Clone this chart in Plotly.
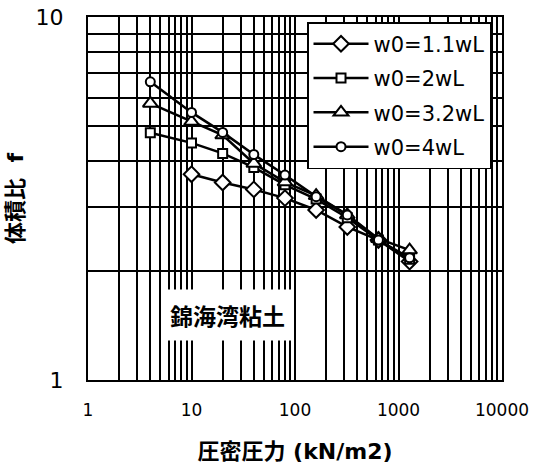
import plotly.graph_objects as go

pressure = [4, 10, 20, 40, 80, 160, 320, 640, 1280]
f_11 = [None, 3.69, 3.50, 3.35, 3.17, 2.94, 2.64, 2.43, 2.12]
f_2 = [4.80, 4.50, 4.21, 3.85, 3.45, 3.15, 2.80, 2.43, 2.15]
f_32 = [5.78, 5.15, 4.73, 3.95, 3.51, 3.22, 2.85, 2.45, 2.28]
f_4 = [6.63, 5.46, 4.81, 4.18, 3.67, 3.20, 2.85, 2.43, 2.17]

names = ["w0=1.1wL", "w0=2wL", "w0=3.2wL", "w0=4wL"]
series = [f_11, f_2, f_32, f_4]
symbols = ["diamond", "square", "triangle-up", "circle"]
sizes = [12, 9, 13, 9]

x_ticks = [1, 10, 100, 1000, 10000]
y_ticks = [1, 10]

fig = go.Figure()
for i, (nm, ys, sym, sz) in enumerate(zip(names, series, symbols, sizes)):
    xs = [p for p, v in zip(pressure, ys) if v is not None]
    vs = [v for v in ys if v is not None]
    fig.add_trace(go.Scatter(
        x=xs, y=vs, name=nm, mode="lines+markers",
        legendgroup=f"g{i}",
        line=dict(color="black", width=2.5),
        marker=dict(symbol=sym, size=sz, color="white",
                    line=dict(color="black", width=2)),
    ))

font_main = "DejaVu Sans, Noto Sans CJK JP, sans-serif"

fig.update_layout(
    width=549, height=467,
    margin=dict(l=88, r=47, t=17, b=87),
    paper_bgcolor="white", plot_bgcolor="white",
    font=dict(family=font_main, color="black"),
    showlegend=True,
    legend=dict(
        x=0.529, y=0.986, xanchor="left", yanchor="top",
        bgcolor="white", bordercolor="black", borderwidth=1.5,
        font=dict(size=21, family=font_main),
        itemwidth=55, tracegroupgap=4,
    ),
    annotations=[dict(
        text="<b>錦海湾粘土</b>", x=0.336, y=0.179, xref="paper", yref="paper",
        showarrow=False, font=dict(size=23, family="Noto Sans CJK JP"),
        bgcolor="white", xanchor="center", yanchor="middle",
        borderpad=8,
    )],
)

fig.update_xaxes(
    type="log", range=[0, 4], tickvals=x_ticks, ticktext=[str(v) for v in x_ticks],
    showgrid=True, gridcolor="black", gridwidth=1.5,
    minor=dict(dtick="D1", showgrid=True, gridcolor="black", gridwidth=1.5),
    showline=True, linecolor="black", linewidth=2, mirror=True,
    ticks="", tickfont=dict(size=17), ticklabelstandoff=14,
    title=dict(text="<b>圧密圧力 (kN/m2)</b>", font=dict(size=22, family=font_main), standoff=24),
    zeroline=False, automargin=False,
)
fig.update_yaxes(
    type="log", range=[0, 1], tickvals=y_ticks, ticktext=[str(v) for v in y_ticks],
    showgrid=True, gridcolor="black", gridwidth=1.5,
    minor=dict(dtick="D1", showgrid=True, gridcolor="black", gridwidth=1.5),
    showline=True, linecolor="black", linewidth=2, mirror=True,
    ticks="", tickfont=dict(size=22), ticklabelstandoff=18,
    title=dict(text="<b>体積比  f</b>", font=dict(size=22, family=font_main), standoff=6),
    zeroline=False, automargin=False,
)

fig.write_html("out.html")
